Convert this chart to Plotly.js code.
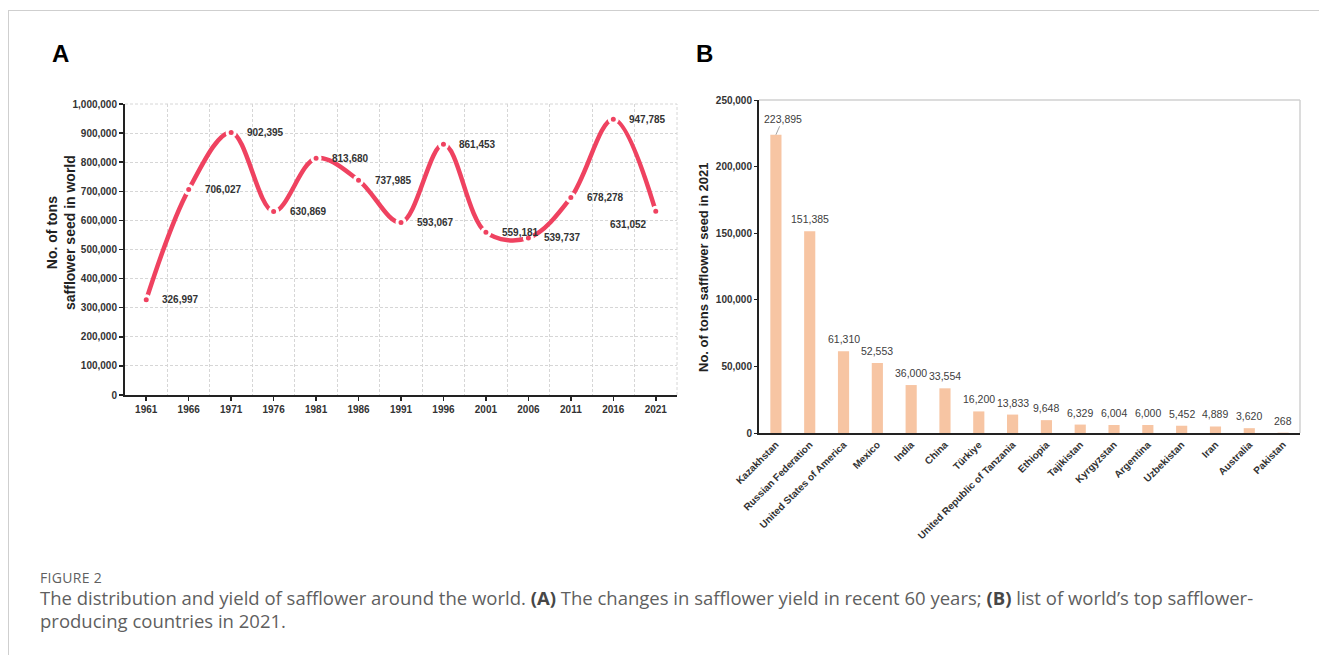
<!DOCTYPE html>
<html>
<head>
<meta charset="utf-8">
<script src="https://cdn.plot.ly/plotly-3.0.1.min.js"></script>
<style>
  html, body { margin: 0; padding: 0; background: #fff; }
  #wrap { position: relative; width: 1319px; height: 655px; overflow: hidden; background: #fff; }
  #frame { position: absolute; left: 8px; top: 10px; width: 1311px; height: 645px;
           border-top: 1px solid #cfcfcf; border-left: 1px solid #cfcfcf; }
  #chart { position: absolute; left: 0; top: 0; width: 1319px; height: 655px; }
  .cap { position: absolute; left: 40px; font-family: "Open Sans", "Noto Sans", sans-serif; color: #5f5f5f; }
  #figno { top: 568px; font-size: 14px; letter-spacing: 0.3px; }
  #captext { top: 586px; font-size: 18.5px; line-height: 23px; width: 1260px; white-space: nowrap; }
  #captext b { color: #474747; }
</style>
</head>
<body>
<div id="wrap">
  <div id="frame"></div>
  <div id="chart"></div>
  <div id="figno" class="cap">FIGURE 2</div>
  <div id="captext" class="cap">The distribution and yield of safflower around the world. <b>(A)</b> The changes in safflower yield in recent 60 years; <b>(B)</b> list of world’s top safflower-<br>producing countries in 2021.</div>
</div>
<script>
// ---- Panel A data ----
const years = [1961, 1966, 1971, 1976, 1981, 1986, 1991, 1996, 2001, 2006, 2011, 2016, 2021];
const worldTons = [326997, 706027, 902395, 630869, 813680, 737985, 593067, 861453, 559181, 539737, 678278, 947785, 631052];

// ---- Panel B data ----
const countries = ["Kazakhstan", "Russian Federation", "United States of America", "Mexico", "India", "China",
  "Türkiye", "United Republic of Tanzania", "Ethiopia", "Tajikistan", "Kyrgyzstan", "Argentina",
  "Uzbekistan", "Iran", "Australia", "Pakistan"];
const tons2021 = [223895, 151385, 61310, 52553, 36000, 33554, 16200, 13833, 9648, 6329, 6004, 6000, 5452, 4889, 3620, 268];

const W = 1319, H = 655;
const FONT = "Liberation Sans, Arial, sans-serif";
const fmt = v => v.toLocaleString('en-US');
const px = x => x / W;
const py = y => 1 - y / H;

const lineColor = '#ef4260';

const traceA = {
  type: 'scatter', mode: 'lines+markers',
  x: years, y: worldTons,
  xaxis: 'x', yaxis: 'y',
  line: { color: lineColor, width: 4.5, shape: 'spline', smoothing: 1 },
  marker: { color: lineColor, size: 8, line: { color: '#ffffff', width: 3 } },
  hoverinfo: 'skip', showlegend: false
};

const traceB = {
  type: 'bar',
  x: countries, y: tons2021,
  xaxis: 'x2', yaxis: 'y2',
  marker: { color: '#f7c5a3' },
  hoverinfo: 'skip', showlegend: false
};

const annotations = [];
// Panel letters
annotations.push({ xref: 'paper', yref: 'paper', x: px(60), y: py(53), text: 'A', showarrow: false,
  font: { family: FONT, size: 24, color: '#000', weight: 'bold' }, xanchor: 'center', yanchor: 'middle' });
annotations.push({ xref: 'paper', yref: 'paper', x: px(704), y: py(53), text: 'B', showarrow: false,
  font: { family: FONT, size: 24, color: '#000', weight: 'bold' }, xanchor: 'center', yanchor: 'middle' });

// Axis titles
annotations.push({ xref: 'paper', yref: 'paper', x: px(61), y: py(233), textangle: -90,
  text: 'No. of tons<br>safflower seed in world', showarrow: false,
  font: { family: FONT, size: 14, color: '#222', weight: 'bold' }, xanchor: 'center', yanchor: 'middle' });
annotations.push({ xref: 'paper', yref: 'paper', x: px(703), y: py(267), textangle: -90,
  text: 'No. of tons safflower seed in 2021', showarrow: false,
  font: { family: FONT, size: 13, color: '#222', weight: 'bold' }, xanchor: 'center', yanchor: 'middle' });

// Panel A point labels
years.forEach((yr, i) => {
  const last = i === years.length - 1;
  annotations.push({
    xref: 'x', yref: 'y', x: yr, y: worldTons[i], text: fmt(worldTons[i]), showarrow: false,
    xanchor: last ? 'right' : 'left', yanchor: 'middle',
    xshift: last ? -7 : 14, yshift: last ? -13 : 0,
    font: { family: FONT, size: 10, color: '#333', weight: 'bold' }
  });
});

// Panel B bar labels
countries.forEach((c, i) => {
  if (i === 0) {
    annotations.push({
      xref: 'x2', yref: 'y2', x: c, y: tons2021[i], text: fmt(tons2021[i]),
      showarrow: true, arrowhead: 0, arrowwidth: 0.8, arrowcolor: '#8a8a8a', ax: 7, ay: -16,
      font: { family: FONT, size: 10.5, color: '#404040' }
    });
  } else {
    annotations.push({
      xref: 'x2', yref: 'y2', x: c, y: tons2021[i], text: fmt(tons2021[i]), showarrow: false,
      xanchor: 'center', yanchor: 'middle', yshift: 12,
      font: { family: FONT, size: 10.5, color: '#404040' }
    });
  }
});

const gridCol = '#d6d6d6';
const gridDash = '3px,2px';
const layout = {
  width: W, height: H,
  margin: { l: 0, r: 0, t: 0, b: 0 },
  paper_bgcolor: 'rgba(0,0,0,0)', plot_bgcolor: 'rgba(0,0,0,0)',
  font: { family: FONT },
  showlegend: false,
  xaxis: {
    domain: [px(125), px(677)], anchor: 'y',
    range: [1958.5, 2023.5],
    tickmode: 'array', tickvals: years, ticktext: years.map(String),
    ticks: 'outside', ticklen: 4, tickwidth: 1.5, tickcolor: '#222',
    showline: true, linewidth: 2, linecolor: '#222',
    showgrid: false, zeroline: false,
    minor: { tick0: 1958.5, dtick: 5, showgrid: true, gridcolor: gridCol, griddash: gridDash, gridwidth: 1, ticks: '', ticklen: 0 },
    tickfont: { family: FONT, size: 10, color: '#333', weight: 'bold' },
    fixedrange: true
  },
  yaxis: {
    domain: [py(395), py(104)], anchor: 'x',
    range: [0, 1000000], dtick: 100000, tick0: 0, tickformat: ',d',
    ticks: 'outside', ticklen: 4, tickwidth: 1.5, tickcolor: '#222',
    showline: true, linewidth: 2, linecolor: '#222',
    showgrid: true, gridcolor: gridCol, griddash: gridDash, gridwidth: 1, zeroline: false,
    tickfont: { family: FONT, size: 10, color: '#333', weight: 'bold' },
    fixedrange: true
  },
  xaxis2: {
    domain: [px(759), px(1300)], anchor: 'y2', type: 'category',
    tickangle: -45, ticks: '', showline: true, linewidth: 2, linecolor: '#222',
    showgrid: false, zeroline: false,
    tickfont: { family: FONT, size: 10, color: '#333', weight: 'bold' },
    fixedrange: true
  },
  yaxis2: {
    domain: [py(433), py(100)], anchor: 'x2',
    range: [0, 250000], dtick: 50000, tick0: 0, tickformat: ',d',
    ticks: 'outside', ticklen: 3, tickwidth: 1, tickcolor: '#222',
    showline: true, linewidth: 2, linecolor: '#222',
    showgrid: false, zeroline: false,
    tickfont: { family: FONT, size: 10, color: '#333', weight: 'bold' },
    fixedrange: true
  },
  bargap: 0.67,
  shapes: [
    { type: 'line', xref: 'x2 domain', yref: 'y2 domain', x0: 0, x1: 1, y0: 1, y1: 1, line: { color: '#d0d0d0', width: 1.5 } },
    { type: 'line', xref: 'x2 domain', yref: 'y2 domain', x0: 1, x1: 1, y0: 0, y1: 1, line: { color: '#d0d0d0', width: 1.5 } },
    { type: 'line', xref: 'x domain', yref: 'y domain', x0: 1, x1: 1, y0: 0, y1: 1, line: { color: gridCol, width: 1, dash: gridDash } },
    { type: 'line', xref: 'x domain', yref: 'y domain', x0: 0, x1: 1, y0: 1, y1: 1, line: { color: gridCol, width: 1, dash: gridDash } }
  ],
  annotations: annotations
};

Plotly.newPlot('chart', [traceA, traceB], layout, { displayModeBar: false, staticPlot: true });
</script>
</body>
</html>
